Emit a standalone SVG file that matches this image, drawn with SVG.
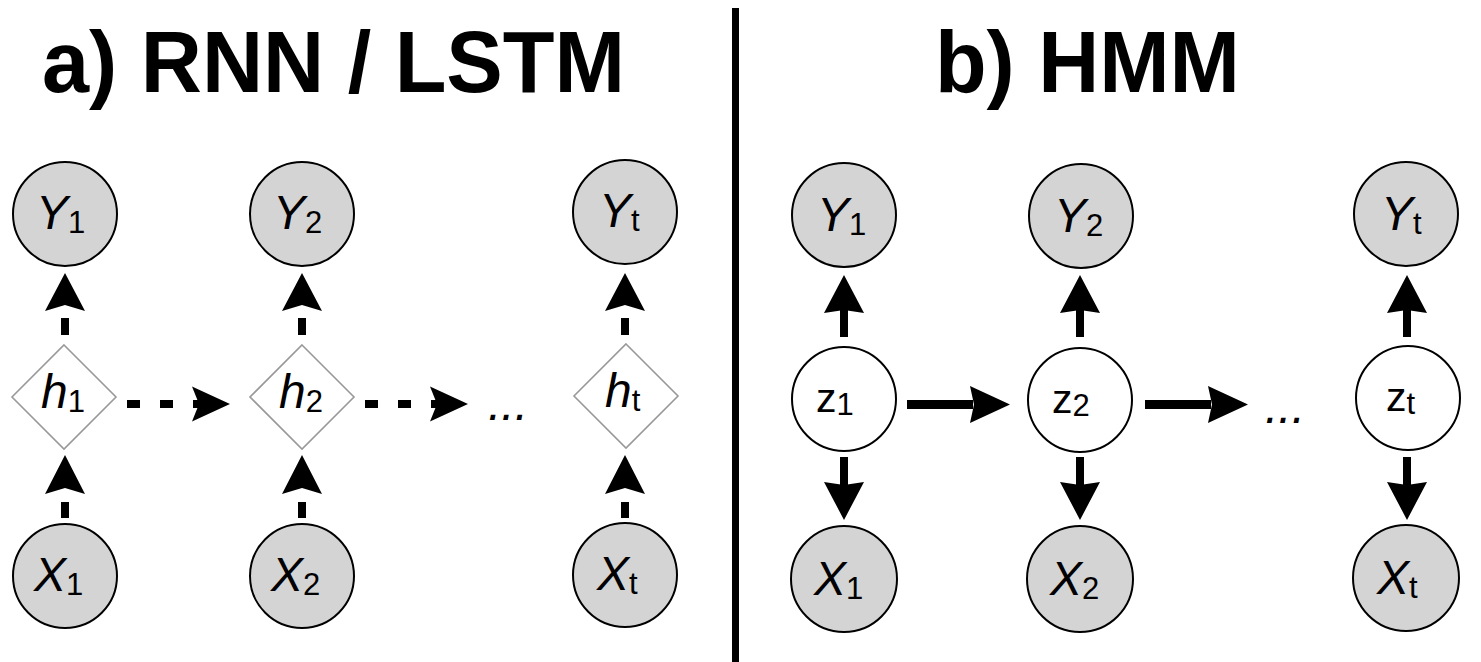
<svg xmlns="http://www.w3.org/2000/svg" width="1481" height="662" viewBox="0 0 1481 662">
<style>
.obs{fill:#d4d4d4;stroke:#000;stroke-width:2}
.lat{fill:#fff;stroke:#000;stroke-width:2}
.hid{fill:#fff;stroke:#999;stroke-width:1.6}
.lbl{font-family:"Liberation Sans",Arial,sans-serif;fill:#000}
.big{font-size:48px;font-style:italic}
.zz{font-size:41px}
.sub{font-size:31px;font-style:normal}
.title{font-family:"Liberation Sans",Arial,sans-serif;font-weight:bold;font-size:88px;fill:#000}
.k{fill:#000}
</style>
<rect width="1481" height="662" fill="#fff"/>
<text class="title" x="42" y="92" textLength="583" lengthAdjust="spacingAndGlyphs">a) RNN / LSTM</text>
<text class="title" x="935" y="92" textLength="305" lengthAdjust="spacingAndGlyphs">b) HMM</text>
<rect id="divider" x="732" y="8" width="7" height="654" fill="#000"/>

<g id="connectors">
  <g id="a-vert">
    <rect class="k" x="61" y="502" width="8" height="16"/><polygon class="k" points="65,455 85,494 65,488 45,494"/>
    <rect class="k" x="61" y="318" width="8" height="17"/><polygon class="k" points="65,273 85,311 65,305 45,311"/>
    <rect class="k" x="298" y="502" width="8" height="16"/><polygon class="k" points="302,455 322,494 302,488 282,494"/>
    <rect class="k" x="298" y="318" width="8" height="17"/><polygon class="k" points="302,273 322,311 302,305 282,311"/>
    <rect class="k" x="621" y="502" width="8" height="16"/><polygon class="k" points="625,455 645,494 625,488 605,494"/>
    <rect class="k" x="621" y="318" width="8" height="17"/><polygon class="k" points="625,273 645,311 625,305 605,311"/>
  </g>
  <g id="a-horiz">
    <rect class="k" x="127" y="400" width="13" height="8"/><rect class="k" x="160" y="400" width="13" height="8"/><rect class="k" x="193" y="400" width="8" height="8"/>
    <polygon class="k" points="230,404 192,386.5 199,404 192,421.5"/>
    <rect class="k" x="365" y="400" width="13" height="8"/><rect class="k" x="398" y="400" width="13" height="8"/><rect class="k" x="431" y="400" width="8" height="8"/>
    <polygon class="k" points="468,404 430,386.5 437,404 430,421.5"/>
  </g>
  <g id="b-arrows">
    <rect class="k" x="840" y="308" width="8" height="29"/><polygon class="k" points="844,275 864,313 844,310 824,313"/>
    <rect class="k" x="840" y="457" width="8" height="28"/><polygon class="k" points="844,520 864,482 844,485 824,482"/>
    <rect class="k" x="1076" y="308" width="8" height="29"/><polygon class="k" points="1080,275 1100,313 1080,310 1060,313"/>
    <rect class="k" x="1076" y="457" width="8" height="28"/><polygon class="k" points="1080,520 1100,482 1080,485 1060,482"/>
    <rect class="k" x="1403" y="308" width="8" height="29"/><polygon class="k" points="1407,275 1427,313 1407,310 1387,313"/>
    <rect class="k" x="1403" y="457" width="8" height="28"/><polygon class="k" points="1407,520 1427,482 1407,485 1387,482"/>
    <rect class="k" x="907" y="400" width="66" height="9"/><polygon class="k" points="1010,404.5 970,386 974,404.5 970,423"/>
    <rect class="k" x="1145" y="400" width="66" height="9"/><polygon class="k" points="1248,404.5 1208,386 1212,404.5 1208,423"/>
  </g>
</g>

<text class="lbl" x="488" y="420" font-size="48" font-style="italic">...</text>
<text class="lbl" x="1265" y="423" font-size="48" font-style="italic">...</text>

<g id="a-Y1"><circle class="obs" cx="65" cy="214" r="52"/><text class="lbl" x="36" y="229"><tspan class="big">Y</tspan><tspan class="sub" dy="4">1</tspan></text></g>
<g id="a-Y2"><circle class="obs" cx="302" cy="214" r="52"/><text class="lbl" x="273" y="229"><tspan class="big">Y</tspan><tspan class="sub" dy="4">2</tspan></text></g>
<g id="a-Yt"><circle class="obs" cx="625" cy="212" r="52"/><text class="lbl" x="599" y="227"><tspan class="big">Y</tspan><tspan class="sub" dy="4">t</tspan></text></g>
<g id="a-h1"><polygon class="hid" points="64,345 116,397 64,449 12,397"/><text class="lbl" x="41" y="408"><tspan class="big">h</tspan><tspan class="sub" dy="4">1</tspan></text></g>
<g id="a-h2"><polygon class="hid" points="302,345 354,397 302,449 250,397"/><text class="lbl" x="279" y="408"><tspan class="big">h</tspan><tspan class="sub" dy="4">2</tspan></text></g>
<g id="a-ht"><polygon class="hid" points="626,344 678,396 626,448 574,396"/><text class="lbl" x="605" y="407"><tspan class="big">h</tspan><tspan class="sub" dy="4">t</tspan></text></g>
<g id="a-X1"><circle class="obs" cx="65" cy="576" r="52"/><text class="lbl" x="34" y="591"><tspan class="big">X</tspan><tspan class="sub" dy="4">1</tspan></text></g>
<g id="a-X2"><circle class="obs" cx="302" cy="576" r="52"/><text class="lbl" x="271" y="591"><tspan class="big">X</tspan><tspan class="sub" dy="4">2</tspan></text></g>
<g id="a-Xt"><circle class="obs" cx="625" cy="575" r="52"/><text class="lbl" x="597" y="590"><tspan class="big">X</tspan><tspan class="sub" dy="4">t</tspan></text></g>

<g id="b-Y1"><circle class="obs" cx="844" cy="215" r="52"/><text class="lbl" x="817" y="231"><tspan class="big">Y</tspan><tspan class="sub" dy="4">1</tspan></text></g>
<g id="b-Y2"><circle class="obs" cx="1081" cy="216" r="52"/><text class="lbl" x="1054" y="232"><tspan class="big">Y</tspan><tspan class="sub" dy="4">2</tspan></text></g>
<g id="b-Yt"><circle class="obs" cx="1406" cy="214" r="52"/><text class="lbl" x="1381" y="230"><tspan class="big">Y</tspan><tspan class="sub" dy="4">t</tspan></text></g>
<g id="b-z1"><circle class="lat" cx="844" cy="399" r="52"/><text class="lbl" x="816" y="412"><tspan class="zz">z</tspan><tspan class="sub" dy="3">1</tspan></text></g>
<g id="b-z2"><circle class="lat" cx="1080" cy="400" r="52"/><text class="lbl" x="1052" y="413"><tspan class="zz">z</tspan><tspan class="sub" dy="3">2</tspan></text></g>
<g id="b-zt"><circle class="lat" cx="1408" cy="398" r="52"/><text class="lbl" x="1386" y="411"><tspan class="zz">z</tspan><tspan class="sub" dy="3">t</tspan></text></g>
<g id="b-X1"><circle class="obs" cx="844" cy="579" r="53"/><text class="lbl" x="814" y="595"><tspan class="big">X</tspan><tspan class="sub" dy="4">1</tspan></text></g>
<g id="b-X2"><circle class="obs" cx="1080" cy="579" r="53"/><text class="lbl" x="1050" y="595"><tspan class="big">X</tspan><tspan class="sub" dy="4">2</tspan></text></g>
<g id="b-Xt"><circle class="obs" cx="1406" cy="578" r="53"/><text class="lbl" x="1377" y="594"><tspan class="big">X</tspan><tspan class="sub" dy="4">t</tspan></text></g>
</svg>
